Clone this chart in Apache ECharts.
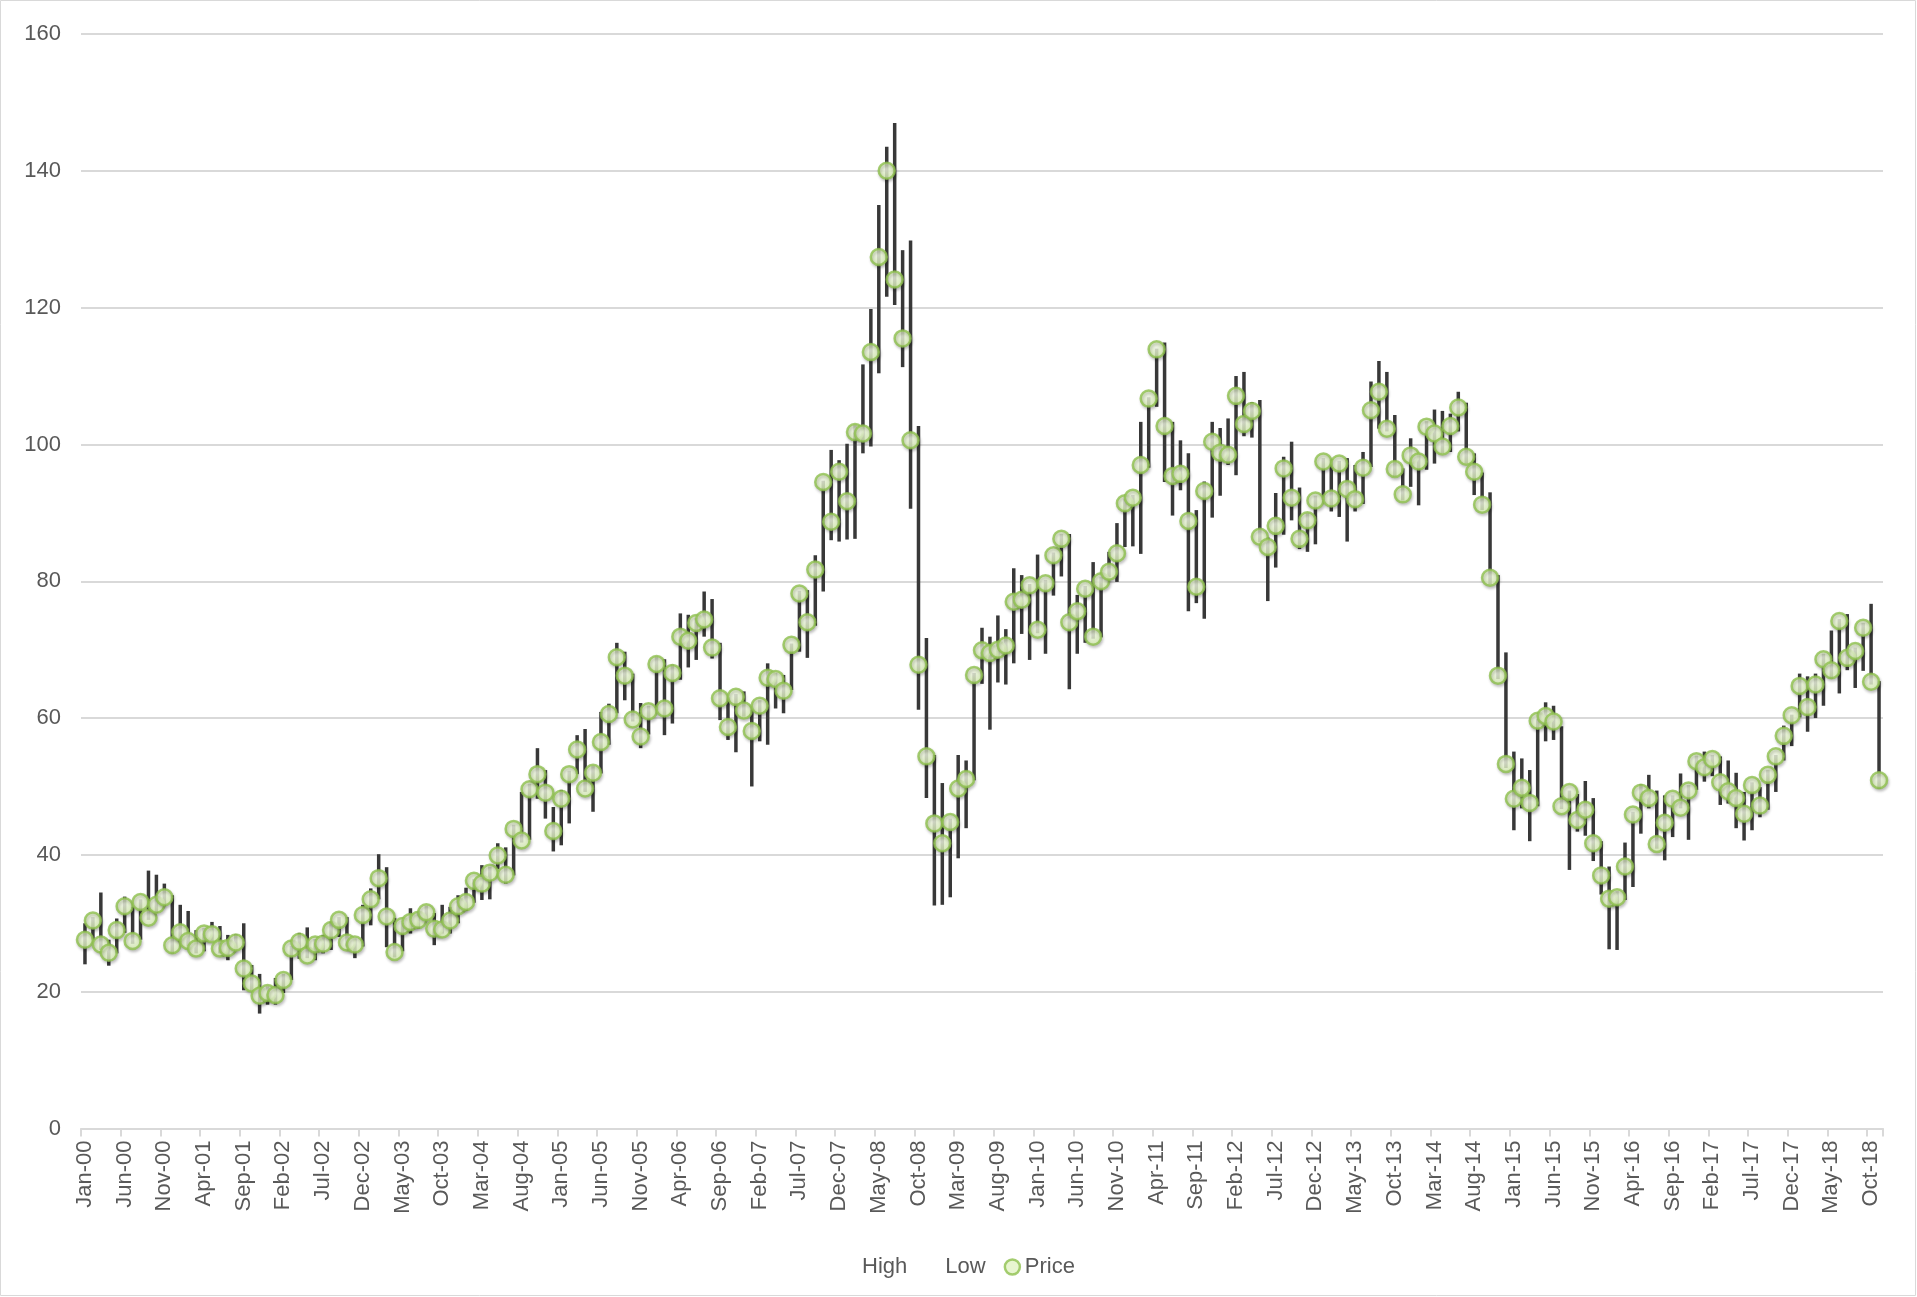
<!DOCTYPE html>
<html>
<head>
<meta charset="utf-8">
<script src="https://cdn.jsdelivr.net/npm/echarts@6/dist/echarts.min.js"></script>
<style>
html,body{margin:0;padding:0;background:#fff;}
#chart{width:1917px;height:1297px;}
</style>
</head>
<body>
<div id="chart"></div>
<script>
var months = ['Jan','Feb','Mar','Apr','May','Jun','Jul','Aug','Sep','Oct','Nov','Dec'];
var categories = [];
for (var y = 0; y <= 18; y++) {
  for (var m = 0; m < 12; m++) {
    if (y === 18 && m === 11) break;
    categories.push(months[m] + '-' + (y < 10 ? '0' + y : '' + y));
  }
}

var price = [
  27.6,30.4,26.9,25.7,29.0,32.5,27.4,33.1,30.8,32.7,33.8,26.8,
  28.7,27.4,26.3,28.5,28.4,26.3,26.4,27.2,23.4,21.2,19.4,19.8,
  19.5,21.7,26.3,27.3,25.3,26.9,27.0,29.0,30.5,27.2,26.9,31.2,
  33.5,36.6,31.0,25.8,29.6,30.2,30.5,31.6,29.2,29.1,30.4,32.5,
  33.1,36.2,35.8,37.4,39.9,37.1,43.8,42.1,49.6,51.8,49.1,43.5,
  48.2,51.8,55.4,49.7,52.0,56.5,60.6,68.9,66.2,59.8,57.3,61.0,
  67.9,61.4,66.6,71.9,71.3,73.9,74.4,70.3,62.9,58.7,63.1,61.1,
  58.1,61.8,65.9,65.7,64.0,70.7,78.2,74.0,81.7,94.5,88.7,96.0,
  91.7,101.8,101.6,113.5,127.4,140.0,124.1,115.5,100.6,67.8,54.4,44.6,
  41.7,44.8,49.7,51.1,66.3,69.9,69.5,70.0,70.6,77.0,77.3,79.4,
  72.9,79.7,83.8,86.2,74.0,75.6,78.9,71.9,80.0,81.4,84.1,91.4,
  92.2,97.0,106.7,113.9,102.7,95.4,95.7,88.8,79.2,93.2,100.4,98.8,
  98.5,107.1,103.0,104.9,86.5,85.0,88.1,96.5,92.2,86.2,88.9,91.8,
  97.5,92.1,97.2,93.5,92.0,96.6,105.0,107.7,102.3,96.4,92.7,98.4,
  97.5,102.6,101.6,99.7,102.7,105.4,98.2,96.0,91.2,80.5,66.2,53.3,
  48.2,49.8,47.6,59.6,60.3,59.5,47.1,49.2,45.1,46.6,41.7,37.0,
  33.6,33.8,38.3,45.9,49.1,48.3,41.6,44.7,48.2,46.9,49.4,53.7,
  52.8,54.0,50.6,49.3,48.3,46.0,50.2,47.2,51.7,54.4,57.4,60.4,
  64.7,61.6,64.9,68.6,67.0,74.2,68.8,69.8,73.2,65.3,50.9
];

var high = [
  30.0,30.9,34.5,27.6,30.7,33.9,32.4,33.5,37.7,37.1,35.8,34.1,
  32.7,31.8,29.0,29.3,30.2,29.6,28.3,28.4,30.0,23.9,22.6,20.8,
  22.0,22.6,26.7,28.6,29.4,27.7,28.3,30.2,30.9,30.9,27.8,32.7,
  35.1,40.1,38.2,30.8,30.0,32.2,31.6,32.6,31.5,32.7,32.4,34.1,
  35.2,36.5,38.5,38.3,41.7,41.1,44.4,49.2,50.4,55.6,52.4,47.0,
  49.5,52.3,57.5,58.4,53.0,60.9,62.1,71.0,69.7,66.5,62.2,61.8,
  69.0,68.6,67.8,75.3,75.1,74.6,78.5,77.4,71.0,63.0,63.5,63.9,
  61.2,62.6,68.0,66.6,66.3,70.9,78.6,78.7,83.8,94.7,99.2,97.7,
  100.1,102.9,111.7,119.8,135.0,143.5,147.0,128.4,129.8,102.7,71.7,54.6,
  50.5,45.3,54.6,53.8,66.6,73.2,71.9,75.0,73.0,81.9,80.9,79.6,
  83.9,80.2,84.2,86.9,86.9,78.0,79.3,82.8,80.6,84.3,88.5,92.0,
  92.6,103.3,106.9,114.0,114.9,103.3,100.6,98.7,90.4,94.6,103.3,102.4,
  103.8,110.0,110.6,106.2,106.5,86.4,92.9,98.2,100.4,93.7,90.0,92.5,
  98.0,97.8,97.6,98.0,97.0,98.9,109.2,112.2,110.6,104.3,96.5,100.9,
  98.6,103.4,105.1,104.9,104.5,107.7,106.1,98.7,95.9,93.0,80.9,69.6,
  55.1,54.1,52.4,59.9,62.3,61.8,58.8,49.4,48.9,50.8,48.3,42.0,
  38.3,34.7,41.8,46.3,50.3,51.7,49.4,48.7,48.7,51.9,50.2,54.5,
  55.1,54.6,54.4,53.8,52.0,49.2,50.6,49.9,52.4,54.6,58.9,60.5,
  66.5,66.1,66.5,69.4,72.8,74.5,75.2,70.3,73.9,76.7,65.4
];

var low = [
  24.0,27.6,26.1,23.8,25.6,28.6,27.0,27.6,30.5,31.5,32.5,25.6,
  27.3,26.6,25.6,25.9,27.4,25.6,24.6,26.3,20.2,20.2,16.8,18.1,
  18.1,19.8,21.7,24.8,24.9,24.6,25.6,26.1,28.0,26.6,24.9,26.6,
  29.7,33.5,26.5,25.0,25.9,28.5,29.2,30.5,26.8,28.5,28.5,30.0,
  31.8,33.0,33.4,33.5,37.9,35.8,37.0,41.8,42.2,48.2,45.3,40.5,
  41.4,44.6,51.8,49.2,46.3,51.9,56.1,60.7,62.6,59.5,55.6,57.6,
  61.2,57.5,59.2,65.6,67.4,68.5,71.9,68.7,59.7,56.8,55.0,60.2,
  50.0,56.6,56.1,61.4,60.7,64.1,69.7,68.8,73.5,78.5,86.0,85.8,
  86.1,86.2,98.7,99.7,110.4,121.6,120.4,111.3,90.6,61.2,48.3,32.6,
  32.7,33.8,39.5,43.9,50.9,65.0,58.3,65.2,64.9,68.0,72.3,68.5,
  72.4,69.4,77.9,80.7,64.2,69.4,71.0,71.6,71.8,80.6,79.9,85.0,
  85.1,84.0,96.6,105.5,94.5,89.6,93.3,75.6,76.8,74.5,89.3,92.5,
  97.0,95.5,101.2,101.0,85.7,77.1,82.0,86.8,88.9,84.7,84.3,85.4,
  91.9,90.2,89.4,85.8,90.2,91.3,96.7,102.3,101.9,95.3,91.8,93.8,
  91.1,96.3,97.2,98.7,98.9,101.9,97.2,92.6,90.4,79.5,65.7,52.7,
  43.6,46.8,42.0,47.1,56.6,56.8,46.7,37.8,43.4,42.8,39.1,34.2,
  26.2,26.1,33.4,35.3,43.1,46.8,40.9,39.2,42.6,46.8,42.2,49.5,
  50.7,51.5,47.3,47.5,43.9,42.1,43.6,45.5,46.6,49.2,53.8,55.9,
  60.1,58.0,60.0,61.8,65.8,63.6,67.0,64.4,66.9,64.9,49.7
];

var yTicks = [0, 20, 40, 60, 80, 100, 120, 140, 160];

var hlData = categories.map(function (c, i) { return [i, high[i], low[i]]; });

var chart = echarts.init(document.getElementById('chart'), null, {renderer: 'canvas'});
var font = 'Liberation Sans, Arial, sans-serif';

chart.setOption({
  animation: false,
  backgroundColor: '#ffffff',
  textStyle: {fontFamily: font},
  grid: {left: 81, right: 34, top: 34, bottom: 168.5, containLabel: false},
  graphic: [{
    type: 'rect', silent: true,
    shape: {x: 0.5, y: 0.5, width: 1915, height: 1295},
    style: {fill: 'none', stroke: '#d9d9d9', lineWidth: 1}
  }],
  legend: {
    bottom: 14,
    left: 'center',
    itemWidth: 15,
    itemHeight: 15,
    itemGap: 18,
    textStyle: {color: '#595959', fontSize: 22, fontFamily: font},
    data: [
      {name: 'High', icon: 'rect', itemStyle: {color: 'rgba(0,0,0,0)', borderWidth: 0, opacity: 0}},
      {name: 'Low', icon: 'rect', itemStyle: {color: 'rgba(0,0,0,0)', borderWidth: 0, opacity: 0}},
      {name: 'Price', icon: 'circle', itemStyle: {color: '#e2f3c4', borderColor: '#8fc14f', borderWidth: 2.5}}
    ]
  },
  xAxis: {
    type: 'category',
    data: categories,
    boundaryGap: true,
    axisLine: {lineStyle: {color: '#d9d9d9', width: 2}},
    axisTick: {show: true, interval: 4, length: 8, lineStyle: {color: '#d9d9d9', width: 2}},
    axisLabel: {
      interval: 4,
      rotate: 90,
      margin: 12,
      color: '#595959',
      fontSize: 22,
      fontFamily: font
    },
    splitLine: {show: false}
  },
  yAxis: {
    type: 'value',
    min: 0,
    max: 160,
    interval: 20,
    axisLine: {show: false},
    axisTick: {show: false},
    axisLabel: {color: '#595959', fontSize: 22, margin: 20, fontFamily: font,
      formatter: function (v) { return yTicks.indexOf(v) >= 0 ? String(v) : ''; }},
    splitLine: {lineStyle: {color: '#d9d9d9', width: 2}}
  },
  series: [
    {
      name: 'High', type: 'line', data: high, showSymbol: false, silent: true,
      lineStyle: {opacity: 0}, itemStyle: {opacity: 0}, z: 1
    },
    {
      name: 'Low', type: 'line', data: low, showSymbol: false, silent: true,
      lineStyle: {opacity: 0}, itemStyle: {opacity: 0}, z: 1
    },
    {
      name: 'HighLow', type: 'custom', data: hlData, silent: true, z: 2,
      encode: {x: 0, y: [1, 2]},
      renderItem: function (params, api) {
        var x = api.value(0);
        var p1 = api.coord([x, api.value(1)]);
        var p2 = api.coord([x, api.value(2)]);
        return {
          type: 'line',
          shape: {x1: p1[0], y1: p1[1], x2: p2[0], y2: p2[1]},
          style: {stroke: '#383838', lineWidth: 3.5}
        };
      }
    },
    {
      name: 'Price', type: 'scatter', data: price, z: 5,
      symbol: 'circle', symbolSize: 16,
      itemStyle: {
        color: {
          type: 'radial', x: 0.45, y: 0.4, r: 0.6,
          colorStops: [{offset: 0, color: '#f6fcea'}, {offset: 1, color: '#d4eeaa'}]
        },
        borderColor: '#8fc14f',
        borderWidth: 2.5,
        shadowBlur: 3,
        shadowColor: 'rgba(0,0,0,0.25)',
        shadowOffsetX: 1,
        shadowOffsetY: 2
      }
    }
  ]
});
</script>
</body>
</html>
